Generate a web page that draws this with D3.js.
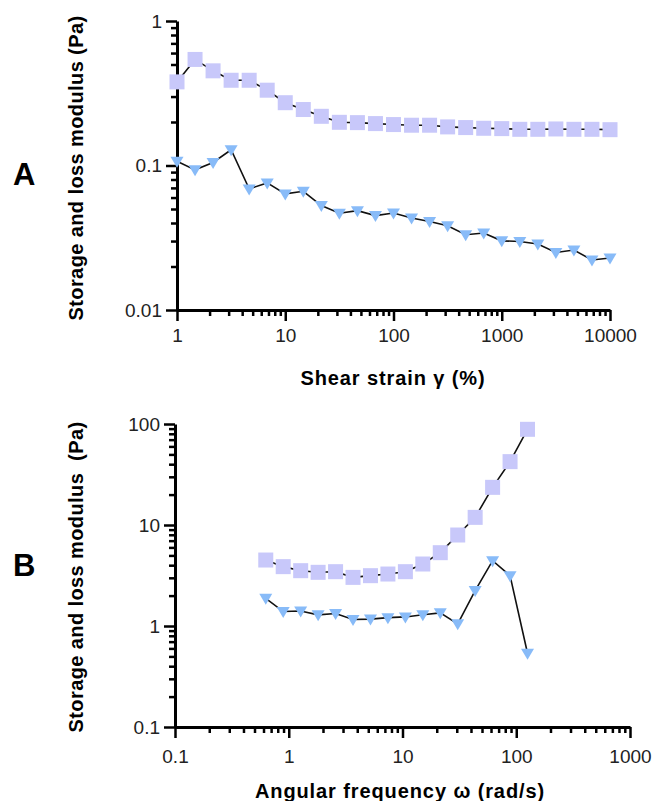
<!DOCTYPE html>
<html>
<head>
<meta charset="utf-8">
<script src="https://cdn.jsdelivr.net/npm/d3@7"></script>
<style>
  body { margin: 0; background: #fff; }
  text { font-family: "Liberation Sans", Arial, sans-serif; }
</style>
</head>
<body>
<div id="container"></div>
<script>
const WIDTH = 656;
const HEIGHT = 801;

// panel A: amplitude sweep
const strainA = [1, 1.468, 2.154, 3.162, 4.642, 6.813, 10, 14.68, 21.54, 31.62, 46.42, 68.13,
                 100, 146.8, 215.4, 316.2, 464.2, 681.3, 1000, 1468, 2154, 3162, 4642, 6813, 10000];
const storageA = [0.379, 0.542, 0.452, 0.389, 0.389, 0.332, 0.272, 0.244, 0.219, 0.199, 0.198, 0.195,
                  0.192, 0.190, 0.190, 0.185, 0.183, 0.181, 0.180, 0.178, 0.178, 0.179, 0.178, 0.178, 0.177];
const lossA = [0.107, 0.0933, 0.105, 0.1285, 0.0689, 0.0758, 0.0636, 0.0663, 0.0528, 0.0467, 0.0487, 0.045,
               0.0469, 0.0433, 0.041, 0.0383, 0.0332, 0.0341, 0.0301, 0.0298, 0.0286, 0.025, 0.026, 0.0222, 0.0229];

// panel B: frequency sweep
const freqB = [0.628, 0.894, 1.273, 1.812, 2.58, 3.673, 5.229, 7.442, 10.6, 15.09, 21.48, 30.58,
               43.53, 61.97, 88.23, 125.6];
const storageB = [4.5, 3.87, 3.53, 3.4, 3.45, 3.03, 3.15, 3.27, 3.45, 4.11, 5.32, 7.96, 11.9, 23.6, 42.4, 88.6];
const lossB = [1.88, 1.39, 1.41, 1.29, 1.33, 1.16, 1.17, 1.21, 1.23, 1.29, 1.35, 1.05, 2.24, 4.43, 3.15, 0.537];

const SQUARE_COLOR = '#c8c8fa';
const TRI_COLOR = '#88bbf8';

const svg = d3.select('#container')
              .append('svg')
                .attr('width', WIDTH)
                .attr('height', HEIGHT);

const fmt = d => d3.format('~g')(d);

function minorTicks(lo, hi) {
    const out = [];
    for (let e = Math.log10(lo); e < Math.log10(hi); e++) {
        for (let m = 2; m <= 9; m++) out.push(m * Math.pow(10, e));
    }
    return out;
}
function majorTicks(lo, hi) {
    const out = [];
    for (let e = Math.round(Math.log10(lo)); e <= Math.round(Math.log10(hi)); e++) out.push(Math.pow(10, e));
    return out;
}

function panel(opt) {
    const g = svg.append('g');
    const x = d3.scaleLog().domain(opt.xDomain).range([opt.left, opt.right]);
    const y = d3.scaleLog().domain(opt.yDomain).range([opt.bottom, opt.top]);

    // minor ticks
    g.append('g')
       .attr('transform', `translate(0, ${opt.bottom})`)
       .call(d3.axisBottom(x).tickValues(minorTicks(...opt.xDomain)).tickSize(6).tickFormat(''))
       .call(a => a.select('.domain').remove());
    g.append('g')
       .attr('transform', `translate(${opt.left}, 0)`)
       .call(d3.axisLeft(y).tickValues(minorTicks(...opt.yDomain)).tickSize(6).tickFormat(''))
       .call(a => a.select('.domain').remove());

    // major ticks + labels
    g.append('g')
       .attr('transform', `translate(0, ${opt.bottom})`)
       .call(d3.axisBottom(x).tickValues(majorTicks(...opt.xDomain)).tickSize(11)
                .tickSizeOuter(0).tickPadding(opt.xPad).tickFormat(fmt));
    g.append('g')
       .attr('transform', `translate(${opt.left}, 0)`)
       .call(d3.axisLeft(y).tickValues(majorTicks(...opt.yDomain)).tickSize(11)
                .tickSizeOuter(0).tickPadding(4).tickFormat(fmt));

    g.selectAll('.tick line').attr('stroke', '#000').attr('stroke-width', 2.5);
    g.selectAll('.domain').attr('stroke', '#000').attr('stroke-width', 3);
    g.selectAll('.tick text').attr('font-size', 19).attr('fill', '#222')
       .style('font-family', '"Liberation Sans", Arial, sans-serif');

    const line = d3.line().x(d => x(d[0])).y(d => y(d[1]));
    const sq = opt.xs.map((v, i) => [v, opt.storage[i]]);
    const tr = opt.xs.map((v, i) => [v, opt.loss[i]]);

    g.append('path').datum(sq).attr('d', line)
       .attr('fill', 'none').attr('stroke', '#111').attr('stroke-width', 1.6);
    g.append('path').datum(tr).attr('d', line)
       .attr('fill', 'none').attr('stroke', '#111').attr('stroke-width', 1.6);

    g.selectAll('rect.sq').data(sq).enter().append('rect')
       .attr('class', 'sq')
       .attr('x', d => x(d[0]) - 7.5).attr('y', d => y(d[1]) - 7.5)
       .attr('width', 15).attr('height', 15)
       .attr('fill', SQUARE_COLOR);

    g.selectAll('path.tri').data(tr).enter().append('path')
       .attr('class', 'tri')
       .attr('d', 'M-6.5,-4.5L6.5,-4.5L0,6.5Z')
       .attr('transform', d => `translate(${x(d[0])}, ${y(d[1])})`)
       .attr('fill', TRI_COLOR);

    // titles
    g.append('text')
       .attr('x', opt.xTitleX).attr('y', opt.xTitleY)
       .attr('text-anchor', 'middle').attr('font-size', 20).attr('font-weight', 'bold')
       .attr('letter-spacing', 0.9)
       .style('white-space', 'pre')
       .text(opt.xTitle);
    g.append('text')
       .attr('transform', `translate(83, ${opt.yTitleY}) rotate(-90)`)
       .attr('text-anchor', 'middle').attr('font-size', 20).attr('font-weight', 'bold')
       .attr('letter-spacing', 0.4)
       .style('white-space', 'pre')
       .text(opt.yTitle);
    g.append('text')
       .attr('x', 13).attr('y', opt.letterY)
       .attr('font-size', 31).attr('font-weight', 'bold')
       .text(opt.letter);
}

panel({
    xDomain: [1, 10000], yDomain: [0.01, 1],
    left: 177, right: 610, top: 21, bottom: 310,
    xs: strainA, storage: storageA, loss: lossA,
    xPad: 8, xTitle: 'Shear strain γ (%)', xTitleX: 393, xTitleY: 385,
    yTitle: 'Storage and loss modulus (Pa)', yTitleY: 168,
    letter: 'A', letterY: 185
});

panel({
    xDomain: [0.1, 1000], yDomain: [0.1, 100],
    left: 175, right: 630, top: 424, bottom: 727,
    xs: freqB, storage: storageB, loss: lossB,
    xPad: 12, xTitle: 'Angular frequency ω (rad/s)', xTitleX: 400, xTitleY: 798,
    yTitle: 'Storage and loss modulus  (Pa)', yTitleY: 577,
    letter: 'B', letterY: 576
});
</script>
</body>
</html>
